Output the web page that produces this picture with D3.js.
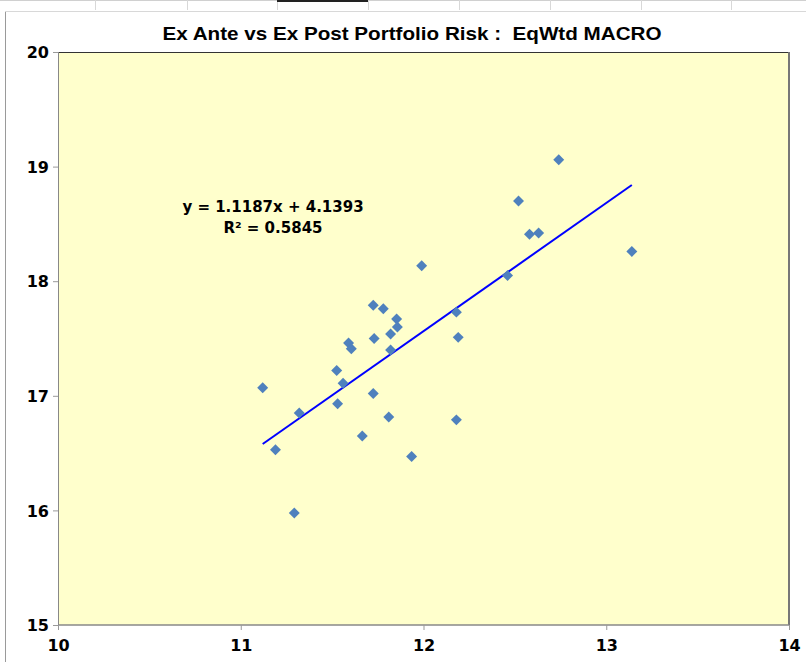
<!DOCTYPE html>
<html>
<head>
<meta charset="utf-8">
<script src="https://cdn.jsdelivr.net/npm/d3@7"></script>
<style>
  body { margin: 0; background: #fff; }
  svg { display: block; }
</style>
</head>
<body>
<div id="chart"></div>
<script>
// ex ante (x) vs ex post (y) risk
var exAnte = [11.12, 11.19, 11.293, 11.32, 11.525, 11.53, 11.56, 11.59, 11.605, 11.665,
  11.725, 11.73, 11.725, 11.78, 11.81, 11.82, 11.82, 11.853, 11.857, 11.935,
  11.99, 12.18, 12.19, 12.18, 12.46, 12.52, 12.58, 12.63, 12.74, 13.14];
var exPost = [17.07, 16.53, 15.977, 16.85, 17.22, 16.93, 17.11, 17.46, 17.41, 16.65,
  17.79, 17.50, 17.02, 17.76, 16.815, 17.40, 17.54, 17.67, 17.60, 16.47,
  18.135, 17.73, 17.51, 16.79, 18.05, 18.70, 18.41, 18.42, 19.06, 18.26];
var xTicks = [10, 11, 12, 13, 14];
var yTicks = [15, 16, 17, 18, 19, 20];
var slope = 1.1187, intercept = 4.1393, rSquared = 0.5845;
var title = "Ex Ante vs Ex Post Portfolio Risk :  EqWtd MACRO";

var W = 806, H = 662;
var margin = {top: 52, right: 17, bottom: 37, left: 58};
var width = W - margin.left - margin.right;
var height = H - margin.top - margin.bottom;

var svg = d3.select("#chart").append("svg")
    .attr("width", W)
    .attr("height", H);

// spreadsheet bits around the chart object
svg.append("rect").attr("x", 0).attr("y", 0).attr("width", W).attr("height", 11).style("fill", "#fff");
svg.append("line").attr("x1", 0).attr("x2", W).attr("y1", 0.5).attr("y2", 0.5).style("stroke", "#d0d0d0");
[95, 187, 277, 368, 459, 550, 641, 731].forEach(function(cx){
  svg.append("line").attr("x1", cx + 0.5).attr("x2", cx + 0.5).attr("y1", 0).attr("y2", 10)
    .style("stroke", "#d8d8d8");
});
svg.append("line").attr("x1", 277).attr("x2", 368).attr("y1", 1).attr("y2", 1).style("stroke", "#222").style("stroke-width", 2);
svg.append("line").attr("x1", 5.5).attr("x2", 5.5).attr("y1", 11).attr("y2", H).style("stroke", "#9a9a9a");
svg.append("line").attr("x1", 5).attr("x2", W).attr("y1", 11.5).attr("y2", 11.5).style("stroke", "#d8d8d8");

var g = svg.append("g")
    .attr("transform", "translate(" + margin.left + "," + margin.top + ")");

var xScale = d3.scaleLinear().domain([10, 14]).range([0, width]);
var yScale = d3.scaleLinear().domain([15, 20]).range([height, 0]);

// plot area
g.append("rect")
  .attr("width", width).attr("height", height)
  .style("fill", "#ffffcc");
g.append("line").attr("x1", 0).attr("x2", width).attr("y1", 0.5).attr("y2", 0.5).style("stroke", "#333");
g.append("line").attr("x1", 0.5).attr("x2", 0.5).attr("y1", 0).attr("y2", height).style("stroke", "#888");
g.append("line").attr("x1", width).attr("x2", width).attr("y1", 0).attr("y2", height).style("stroke", "#777").style("stroke-width", 2);
g.append("line").attr("x1", 0).attr("x2", width).attr("y1", height).attr("y2", height).style("stroke", "#888").style("stroke-width", 1.5);

var xAxis = d3.axisBottom(xScale).tickValues(xTicks).tickSize(5).tickPadding(6).tickFormat(d3.format("d"));
var yAxis = d3.axisLeft(yScale).tickValues(yTicks).tickSize(5).tickPadding(4).tickFormat(d3.format("d"));

var xA = g.append("g").attr("transform", "translate(0," + height + ")").call(xAxis);
var yA = g.append("g").call(yAxis);
[xA, yA].forEach(function(a){
  a.select(".domain").remove();
  a.selectAll(".tick line").style("stroke", "#999");
  a.selectAll("text")
    .style("font-family", "'DejaVu Sans', Verdana, sans-serif")
    .style("font-weight", "bold")
    .style("font-size", "16px")
    .style("fill", "#000");
});
yA.selectAll("text").attr("dy", "0.36em");
xA.selectAll("text").attr("dy", "0.95em");

// trend line over the data range
var xExt = d3.extent(exAnte);
g.append("line")
  .attr("x1", xScale(xExt[0])).attr("y1", yScale(slope * xExt[0] + intercept))
  .attr("x2", xScale(xExt[1])).attr("y2", yScale(slope * xExt[1] + intercept))
  .style("stroke", "#0000ff")
  .style("stroke-width", 2);

var diamond = d3.symbol().type(d3.symbolSquare).size(60);
g.selectAll(".pt")
  .data(exAnte.map(function(d, i){ return {x: d, y: exPost[i]}; }))
  .enter().append("path")
  .attr("class", "pt")
  .attr("d", diamond)
  .attr("transform", function(d){ return "translate(" + xScale(d.x) + "," + yScale(d.y) + ") rotate(45)"; })
  .style("fill", "#4f81bd");

// equation label
var eq = svg.append("g").attr("transform", "translate(273,0)");
eq.append("text").attr("y", 212).attr("text-anchor", "middle")
  .text("y = " + slope.toFixed(4) + "x + " + intercept.toFixed(4))
  .style("font-family", "'DejaVu Sans', Verdana, sans-serif")
  .style("font-weight", "bold").style("font-size", "15px");
eq.append("text").attr("y", 233).attr("text-anchor", "middle")
  .text("R\u00b2 = " + rSquared.toFixed(4))
  .style("font-family", "'DejaVu Sans', Verdana, sans-serif")
  .style("font-weight", "bold").style("font-size", "15px");

svg.append("text")
  .attr("x", 412).attr("y", 40)
  .attr("text-anchor", "middle")
  .attr("textLength", 499)
  .attr("lengthAdjust", "spacingAndGlyphs")
  .text(title)
  .style("font-family", "'Liberation Sans', Arial, sans-serif")
  .style("font-weight", "bold")
  .style("font-size", "19px")
  .style("white-space", "pre");
</script>
</body>
</html>
